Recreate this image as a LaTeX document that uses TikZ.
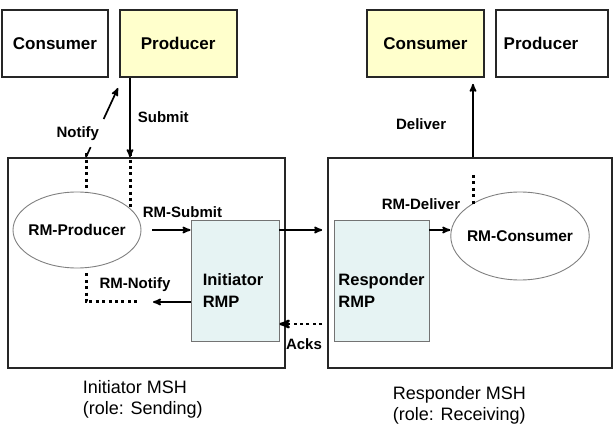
\documentclass[tikz,border=0pt]{standalone}
\usepackage{fontspec}
\setmainfont{Liberation Sans}
\usetikzlibrary{arrows,positioning,shapes.geometric}
\definecolor{appyellow}{HTML}{FFFFCC}
\definecolor{rmpcyan}{HTML}{E6F3F3}

\begin{document}
\begin{tikzpicture}[x=1pt,y=-1pt,>=stealth',line width=1.7pt,
    appbox/.style={rectangle, draw=black!85, line width=1.7pt, minimum height=67pt, inner sep=8pt,
                   font=\fontsize{17}{20}\selectfont\bfseries},
    mshbox/.style={rectangle, draw=black!85, line width=1.7pt, minimum height=210pt},
    rmpbox/.style={rectangle, draw=black!55, line width=0.9pt, fill=rmpcyan, minimum height=121pt},
    rmnode/.style={ellipse, draw=black!50, line width=0.9pt, inner xsep=-4pt,
                   font=\fontsize{15.5}{18}\selectfont\bfseries},
    lbl/.style={font=\fontsize{15}{18}\selectfont\bfseries, inner sep=0pt},
    dots/.style={line width=3pt, dash pattern=on 3pt off 3.4pt}]
      \tikzstyle{every label}=[font=\fontsize{16.5}{22}\selectfont\bfseries, align=left, inner sep=0pt]
      \useasboundingbox (0,0) rectangle (613,438);

      % applications
      \node[appbox, minimum width=106pt]                 (consI) at (55,43.5) {Consumer};
      \node[appbox, fill=appyellow, minimum width=117pt] (prodI) [right=10pt of consI] {Producer};
      \node[appbox, fill=appyellow, minimum width=117pt] (consR) at (425.5,43.5) {Consumer};
      \node[appbox, minimum width=112pt, text width=96pt, align=left] (prodR) [right=10pt of consR] {Producer};

      % message service handlers
      \node[mshbox, minimum width=277pt] (mshI) at (146.5,263) {};
      \node[mshbox, minimum width=284pt] (mshR) at (470,263) {};
      \node[rmpbox, minimum width=88pt, label={[xshift=-2pt,yshift=-10pt]center:Initiator\\RMP}] (rmpI) at (235,280.5) {};
      \node[rmpbox, minimum width=95pt, label={[yshift=-10pt]center:Responder\\RMP}] (rmpR) at (381.5,280.5) {};
      \node[rmnode, minimum width=128pt, minimum height=76pt] (rmProd) at (77,230) {RM-Producer};
      \node[rmnode, minimum width=138pt, minimum height=88pt] (rmCons) at (520,236) {RM-Consumer};

      \coordinate (xnot) at (86,0);
      \coordinate (xsub) at (130,0);
      \coordinate (xdel) at (473,0);
      \coordinate (msgY) at (0,230);
      \coordinate (ackY) at (0,324);
      \coordinate (notTip) at (118,88);
      \coordinate (subEnd) at (130,208);
      \coordinate (ntfyEnd) at (140,302);
      \coordinate (ntfyTip) at (153,302);
      \coordinate (delTop) at (473,175);

      % sending side
      \draw[->] (prodI.south -| xsub) -- node[lbl, pos=0.5, right=7pt] {Submit} (mshI.north -| xsub);
      \draw[dots] ([yshift=4pt]mshI.north -| xsub) -- (subEnd);
      \draw[->, dash pattern=on 11pt off 31pt on 40pt] (mshI.north -| xnot) -- node[lbl, pos=0.34, left=-3pt] {Notify} (notTip);
      \draw[dots] ([yshift=4pt]mshI.north -| xnot) -- (rmProd.north -| xnot);
      \draw[->] ([xshift=11pt]rmProd.east) -- (rmProd.east -| rmpI.west);
      \node[lbl, anchor=south west] (lsub) at (142,218) {RM-Submit};
      \draw[dots] ([yshift=-5pt]rmProd.south -| xnot) |- (ntfyEnd);
      \draw[->] (ntfyEnd -| rmpI.west) -- (ntfyTip);
      \node[lbl] (lntfy) at (135,285) {RM-Notify};

      % between the handlers
      \draw[->, shorten >=5pt] (msgY -| rmpI.east) -- (msgY -| mshR.west);
      \draw[->, dots, line width=2.4pt, shorten <=5pt] (ackY -| mshR.west) -- (ackY -| rmpI.east);
      \node[lbl] (lacks) at (304,344) {Acks};

      % receiving side
      \draw[->] (msgY -| rmpR.east) -- (msgY -| rmCons.west);
      \draw[dots] (delTop) -- (delTop |- rmCons.146);
      \node[lbl] (ldel) at (421,204) {RM-Deliver};
      \draw[->] (mshR.north -| xdel) -- node[lbl, pos=0.45, left=26pt] {Deliver} ([yshift=-6pt]consR.south -| xdel);

      % captions
      \node[anchor=north west, align=left, inner sep=0pt, font=\fontsize{18}{21}\selectfont] (capI) at (82,380)
           {Initiator MSH\\(role: Sending)};
      \node[anchor=north west, align=left, inner sep=0pt, font=\fontsize{18}{21}\selectfont] (capR) at (392,386)
           {Responder MSH\\(role: Receiving)};
\end{tikzpicture}
\end{document}
